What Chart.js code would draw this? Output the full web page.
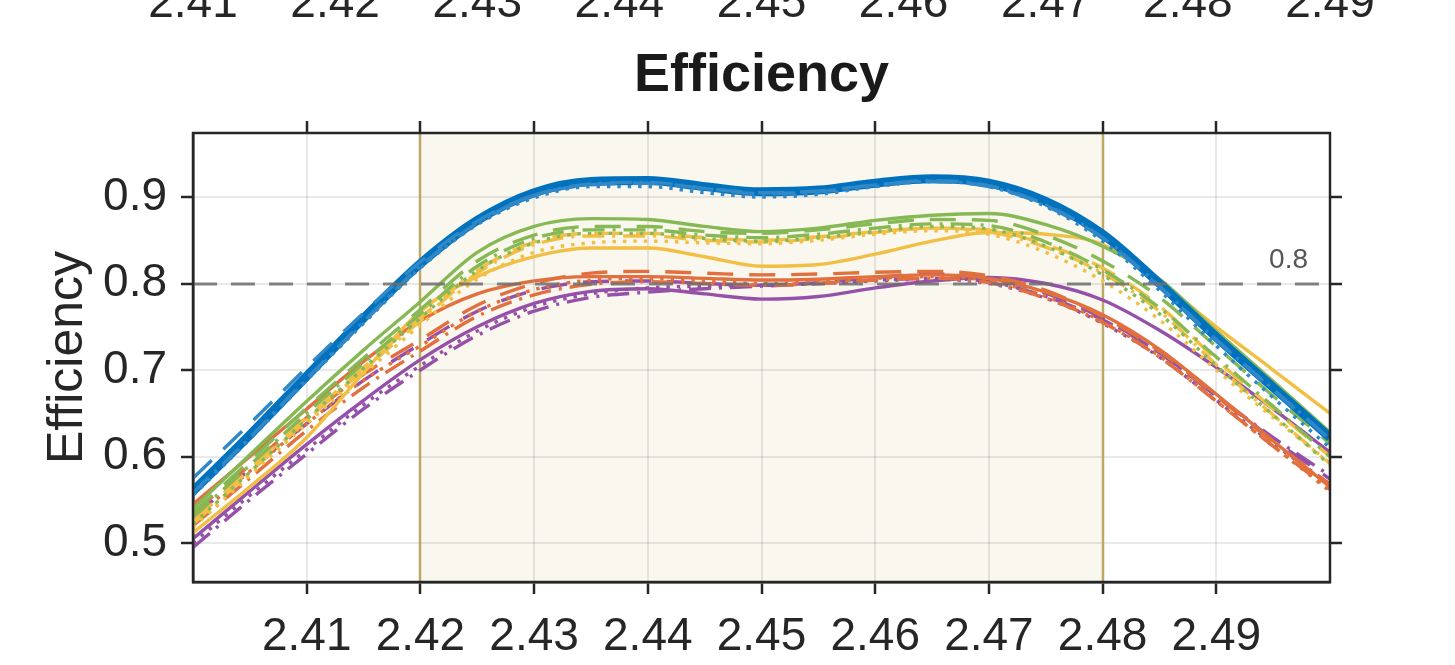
<!DOCTYPE html>
<html>
<head>
<meta charset="utf-8">
<script src="https://cdn.jsdelivr.net/npm/chart.js@4.4.1/dist/chart.umd.min.js"></script>
<style>
  html, body { margin: 0; padding: 0; background: #ffffff; }
  #wrap { width: 1455px; height: 665px; position: relative; }
</style>
</head>
<body>
<div id="wrap"><canvas id="c" width="1455" height="665"></canvas></div>
<script>
// Frequency samples (GHz)
const freq = [2.400, 2.405, 2.410, 2.415, 2.420, 2.425, 2.430, 2.435, 2.440, 2.445, 2.450,
              2.455, 2.460, 2.465, 2.470, 2.475, 2.480, 2.485, 2.490, 2.495, 2.500];

// Tick values
const xTickValues = [2.41, 2.42, 2.43, 2.44, 2.45, 2.46, 2.47, 2.48, 2.49];
const yTickValues = [0.5, 0.6, 0.7, 0.8, 0.9];
const topTickLabels = ['2.41', '2.42', '2.43', '2.44', '2.45', '2.46', '2.47', '2.48', '2.49'];

// Band of interest and target level
const bandEdges = [2.42, 2.48];
const targetLevel = 0.8;

// Efficiency curves, four variants per family
const blueSolid   = [0.560, 0.625, 0.693, 0.760, 0.823, 0.873, 0.905, 0.918, 0.919, 0.912, 0.906, 0.908, 0.916, 0.921, 0.916, 0.895, 0.857, 0.800, 0.738, 0.680, 0.622];
const blueDashed  = [0.575, 0.638, 0.703, 0.766, 0.825, 0.872, 0.902, 0.914, 0.916, 0.910, 0.905, 0.907, 0.914, 0.918, 0.912, 0.890, 0.852, 0.796, 0.735, 0.677, 0.620];
const blueDashDot = [0.558, 0.622, 0.690, 0.756, 0.820, 0.870, 0.902, 0.915, 0.917, 0.910, 0.904, 0.906, 0.914, 0.919, 0.913, 0.891, 0.853, 0.797, 0.735, 0.678, 0.620];
const blueDotted  = [0.555, 0.620, 0.688, 0.754, 0.818, 0.868, 0.899, 0.912, 0.912, 0.905, 0.900, 0.903, 0.912, 0.918, 0.912, 0.889, 0.849, 0.792, 0.728, 0.668, 0.610];

const greenSolid   = [0.540, 0.602, 0.664, 0.723, 0.779, 0.836, 0.866, 0.875, 0.874, 0.866, 0.860, 0.864, 0.873, 0.879, 0.881, 0.868, 0.843, 0.805, 0.745, 0.687, 0.628];
const greenDashed  = [0.535, 0.595, 0.656, 0.714, 0.770, 0.826, 0.856, 0.866, 0.866, 0.860, 0.858, 0.862, 0.869, 0.874, 0.873, 0.856, 0.826, 0.784, 0.727, 0.670, 0.615];
const greenDashDot = [0.530, 0.590, 0.650, 0.708, 0.765, 0.820, 0.852, 0.862, 0.862, 0.856, 0.853, 0.857, 0.864, 0.869, 0.867, 0.848, 0.816, 0.772, 0.715, 0.658, 0.600];
const greenDotted  = [0.522, 0.582, 0.643, 0.702, 0.760, 0.815, 0.847, 0.858, 0.858, 0.852, 0.849, 0.853, 0.860, 0.866, 0.863, 0.843, 0.810, 0.765, 0.705, 0.648, 0.590];

const yellowSolid   = [0.512, 0.565, 0.622, 0.697, 0.768, 0.808, 0.831, 0.841, 0.841, 0.831, 0.820, 0.822, 0.834, 0.849, 0.859, 0.857, 0.845, 0.802, 0.750, 0.700, 0.650];
const yellowDashed  = [0.525, 0.585, 0.645, 0.703, 0.760, 0.815, 0.848, 0.858, 0.858, 0.853, 0.850, 0.854, 0.860, 0.864, 0.862, 0.845, 0.818, 0.774, 0.712, 0.655, 0.600];
const yellowDashDot = [0.522, 0.582, 0.642, 0.700, 0.757, 0.812, 0.845, 0.855, 0.855, 0.850, 0.848, 0.852, 0.859, 0.864, 0.860, 0.842, 0.812, 0.768, 0.706, 0.648, 0.592];
const yellowDotted  = [0.518, 0.578, 0.638, 0.695, 0.752, 0.805, 0.836, 0.847, 0.849, 0.847, 0.846, 0.850, 0.857, 0.861, 0.857, 0.836, 0.803, 0.758, 0.700, 0.645, 0.592];

const orangeSolid   = [0.545, 0.600, 0.655, 0.710, 0.757, 0.788, 0.803, 0.808, 0.808, 0.806, 0.804, 0.805, 0.808, 0.810, 0.806, 0.790, 0.764, 0.724, 0.672, 0.618, 0.565];
const orangeDashed  = [0.535, 0.590, 0.645, 0.695, 0.735, 0.775, 0.800, 0.812, 0.814, 0.812, 0.810, 0.811, 0.813, 0.814, 0.809, 0.792, 0.762, 0.722, 0.670, 0.617, 0.568];
const orangeDashDot = [0.520, 0.575, 0.630, 0.680, 0.722, 0.762, 0.787, 0.799, 0.802, 0.800, 0.798, 0.800, 0.804, 0.806, 0.801, 0.783, 0.755, 0.715, 0.664, 0.612, 0.562];
const orangeDotted  = [0.528, 0.583, 0.638, 0.688, 0.728, 0.768, 0.793, 0.804, 0.806, 0.803, 0.800, 0.802, 0.806, 0.808, 0.803, 0.785, 0.756, 0.716, 0.664, 0.612, 0.560];

const purpleSolid   = [0.505, 0.560, 0.614, 0.665, 0.712, 0.750, 0.777, 0.791, 0.794, 0.788, 0.782, 0.785, 0.795, 0.803, 0.807, 0.800, 0.781, 0.746, 0.703, 0.655, 0.605];
const purpleDashed  = [0.530, 0.585, 0.638, 0.688, 0.730, 0.768, 0.792, 0.802, 0.803, 0.800, 0.798, 0.801, 0.807, 0.811, 0.806, 0.789, 0.760, 0.720, 0.670, 0.620, 0.574];
const purpleDashDot = [0.495, 0.550, 0.603, 0.655, 0.700, 0.740, 0.768, 0.784, 0.790, 0.794, 0.797, 0.800, 0.804, 0.806, 0.802, 0.785, 0.758, 0.720, 0.670, 0.622, 0.578];
const purpleDotted  = [0.500, 0.555, 0.608, 0.660, 0.705, 0.745, 0.773, 0.788, 0.795, 0.797, 0.798, 0.800, 0.803, 0.805, 0.800, 0.783, 0.754, 0.715, 0.665, 0.615, 0.568];

const FONT = "'Liberation Sans', Arial, Helvetica, sans-serif";
const INK = '#262626';

const DASH = [26, 16];
const DASHDOT = [22, 8, 3, 8];
const DOT = [3.4, 7];
const THIN = 3.4;

function line(values, color, width, dash) {
  return {
    data: freq.map((f, i) => ({ x: f, y: values[i] })),
    borderColor: color,
    borderWidth: width,
    borderDash: dash,
    borderCapStyle: 'butt',
    pointRadius: 0,
    fill: false,
    cubicInterpolationMode: 'monotone'
  };
}

const C = {
  blue: '#0072BD', blueThin: '#3088C8',
  green: '#86B954', yellow: '#F2BF45', orange: '#E2703F', purple: '#9550A8'
};

// bottom-most first; reversed below since Chart.js paints dataset 0 last
const stack = [
  line(purpleDashDot, C.purple, THIN, DASHDOT),
  line(purpleDotted, C.purple, THIN, DOT),
  line(purpleDashed, C.purple, THIN, DASH),
  line(purpleSolid, C.purple, THIN, []),
  line(orangeDashDot, C.orange, THIN, DASHDOT),
  line(orangeDotted, C.orange, THIN, DOT),
  line(orangeDashed, C.orange, THIN, DASH),
  line(orangeSolid, C.orange, THIN, []),
  line(yellowDotted, C.yellow, THIN, DOT),
  line(yellowDashDot, C.yellow, THIN, DASHDOT),
  line(yellowDashed, C.yellow, THIN, DASH),
  line(yellowSolid, C.yellow, THIN, []),
  line(greenDotted, C.green, THIN, DOT),
  line(greenDashDot, C.green, THIN, DASHDOT),
  line(greenDashed, C.green, THIN, DASH),
  line(greenSolid, C.green, THIN, []),
  line(blueSolid, C.blue, 9, []),
  line(blueDotted, C.blueThin, THIN, DOT),
  line(blueDashDot, C.blueThin, THIN, DASHDOT),
  line(blueDashed, C.blueThin, THIN, DASH)
];
const datasets = stack.slice().reverse();

const decor = {
  id: 'decor',
  beforeDraw(chart) {
    const { ctx, chartArea: a, scales: { x } } = chart;
    ctx.save();
    ctx.fillStyle = '#ffffff';
    ctx.fillRect(0, 0, chart.width, chart.height);
    const x0 = x.getPixelForValue(bandEdges[0]);
    const x1 = x.getPixelForValue(bandEdges[1]);
    ctx.fillStyle = '#faf7ef';
    ctx.fillRect(x0, a.top, x1 - x0, a.bottom - a.top);
    ctx.restore();
  },
  beforeDatasetsDraw(chart) {
    const { ctx, chartArea: a, scales: { x } } = chart;
    ctx.save();
    ctx.strokeStyle = '#BDA865';
    ctx.lineWidth = 2.5;
    bandEdges.forEach(v => {
      const px = Math.round(x.getPixelForValue(v));
      ctx.beginPath();
      ctx.moveTo(px, a.top);
      ctx.lineTo(px, a.bottom);
      ctx.stroke();
    });
    ctx.restore();
  },
  afterDatasetsDraw(chart) {
    const { ctx, chartArea: a, scales: { x, y } } = chart;
    ctx.save();
    // target level
    const py = Math.round(y.getPixelForValue(targetLevel));
    ctx.strokeStyle = 'rgba(110,110,110,0.85)';
    ctx.lineWidth = 2.8;
    ctx.setLineDash([24, 14]);
    ctx.beginPath();
    ctx.moveTo(a.left, py);
    ctx.lineTo(a.right, py);
    ctx.stroke();
    ctx.setLineDash([]);
    ctx.fillStyle = '#555555';
    ctx.font = '28px ' + FONT;
    ctx.textAlign = 'right';
    ctx.textBaseline = 'alphabetic';
    ctx.fillText(targetLevel.toFixed(1), a.right - 22, py - 16);

    // axes box with outward ticks on top and right
    ctx.strokeStyle = INK;
    ctx.lineWidth = 2.5;
    ctx.strokeRect(a.left, a.top, a.right - a.left, a.bottom - a.top);
    ctx.beginPath();
    xTickValues.forEach(v => {
      const px = Math.round(x.getPixelForValue(v));
      ctx.moveTo(px, a.top);
      ctx.lineTo(px, a.top - 12);
    });
    yTickValues.forEach(v => {
      const p = Math.round(y.getPixelForValue(v));
      ctx.moveTo(a.right, p);
      ctx.lineTo(a.right + 12, p);
    });
    ctx.stroke();
    ctx.restore();
  },
  afterDraw(chart) {
    const { ctx, chartArea: a } = chart;
    ctx.save();
    ctx.fillStyle = INK;
    // tick labels of the axis above, partly out of frame
    ctx.font = '46px ' + FONT;
    ctx.textAlign = 'center';
    ctx.textBaseline = 'alphabetic';
    topTickLabels.forEach((t, i) => {
      const px = a.left + i / (topTickLabels.length - 1) * (a.right - a.left);
      ctx.fillText(t, px, 17);
    });
    // title
    ctx.fillStyle = '#1a1a1a';
    ctx.font = 'bold 54px ' + FONT;
    ctx.fillText('Efficiency', (a.left + a.right) / 2, 91);
    // y-axis label
    ctx.fillStyle = INK;
    ctx.font = '50px ' + FONT;
    ctx.translate(68, (a.top + a.bottom) / 2);
    ctx.rotate(-Math.PI / 2);
    ctx.textBaseline = 'middle';
    ctx.fillText('Efficiency', 0, 0);
    ctx.restore();
  }
};

new Chart(document.getElementById('c'), {
  type: 'line',
  data: { datasets },
  options: {
    responsive: false,
    animation: false,
    devicePixelRatio: 1,
    layout: { padding: { top: 133, right: 125, bottom: 0, left: 0 } },
    plugins: { legend: { display: false }, tooltip: { enabled: false }, title: { display: false } },
    elements: { line: { tension: 0.4 } },
    scales: {
      x: {
        type: 'linear',
        min: 2.40,
        max: 2.50,
        afterBuildTicks: s => { s.ticks = xTickValues.map(v => ({ value: v })); },
        afterFit: s => { s.height = 83; },
        ticks: {
          autoSkip: false,
          maxRotation: 0,
          callback: v => Number(v).toFixed(2),
          font: { family: FONT, size: 46 },
          color: INK,
          padding: 16
        },
        grid: { color: 'rgba(0,0,0,0.085)', lineWidth: 2, tickColor: INK, tickLength: 12, tickWidth: 2.5 },
        border: { display: true, color: INK, width: 2.5 }
      },
      y: {
        type: 'linear',
        min: 0.455,
        max: 0.974,
        afterBuildTicks: s => { s.ticks = yTickValues.map(v => ({ value: v })); },
        afterFit: s => { s.width = 193; },
        ticks: {
          callback: v => Number(v).toFixed(1),
          font: { family: FONT, size: 46 },
          color: INK,
          padding: 14
        },
        grid: { color: 'rgba(0,0,0,0.085)', lineWidth: 2, tickColor: INK, tickLength: 12, tickWidth: 2.5 },
        border: { display: true, color: INK, width: 2.5 }
      }
    }
  },
  plugins: [decor]
});
</script>
</body>
</html>
